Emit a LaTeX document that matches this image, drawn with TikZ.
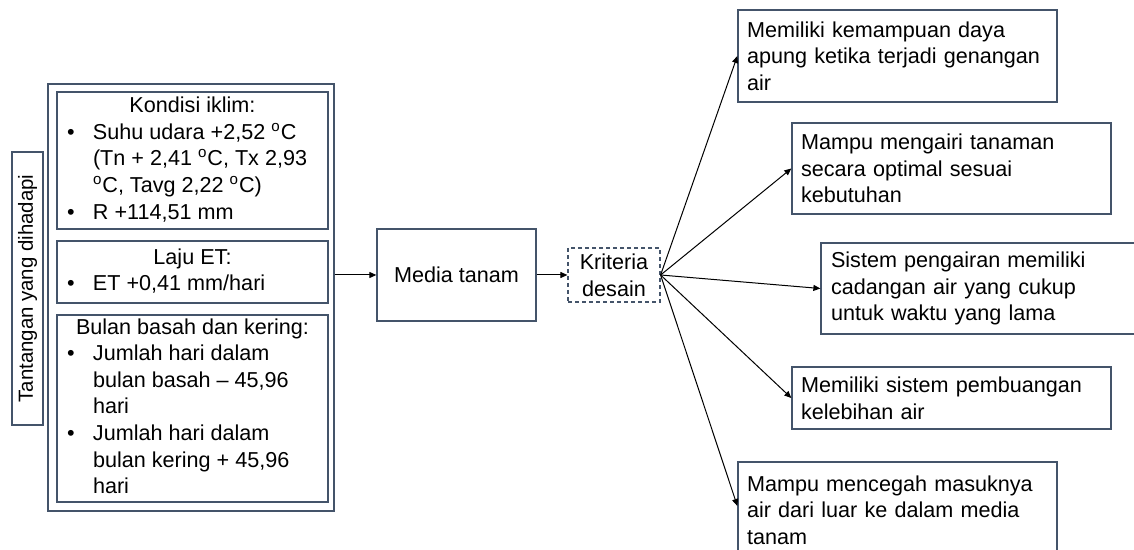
\documentclass[tikz,border=0pt]{standalone}
\usepackage{fontspec}
\setmainfont{Liberation Sans}
\usetikzlibrary{arrows.meta}
\definecolor{boxc}{HTML}{44546A}
\newcommand{\dg}{\textsuperscript{o}}
\begin{document}
\begin{tikzpicture}[x=0.5pt,y=-0.5pt,
  every node/.style={font=\fontsize{10.8pt}{13.3pt}\selectfont, text=black},
  bx/.style={draw=boxc, line width=0.65pt, inner sep=0pt},
  lbox/.style={bx, minimum width=135.5pt},
  rbox/.style={bx, inner xsep=4.5pt, text width=150.5pt, align=left},
  conn/.style={line width=0.5pt, -{Triangle[length=3.5pt,width=3pt]}}]
\useasboundingbox (0,0) rectangle (1134,550);
% left group
\node[bx, minimum width=143pt, minimum height=213.5pt] (outer) at (191,297.5) {};
\node[bx, rotate=90, minimum width=136.5pt, minimum height=15.5pt,
      font=\fontsize{10.2pt}{12pt}\selectfont] (tant) at (27.5,288.5) {Tantangan yang dihadapi};
\node[lbox, minimum height=68.5pt] (k1) at (192.5,160.5) {%
\begin{tabular}{@{\hspace{5pt}}p{13pt}@{}p{117.5pt}@{}}
\multicolumn{2}{@{}c@{}}{Kondisi iklim:}\\
\textbullet & Suhu udara +2,52 \dg C\\
 & (Tn + 2,41 \dg C, Tx 2,93\\
 & \dg C, Tavg 2,22 \dg C)\\
\textbullet & R +114,51 mm
\end{tabular}};
\node[lbox, minimum height=31pt] (k2) at (192.5,272) {%
\begin{tabular}{@{\hspace{5pt}}p{13pt}@{}p{117.5pt}@{}}
\multicolumn{2}{@{}c@{}}{Laju ET:}\\
\textbullet & ET +0,41 mm/hari
\end{tabular}};
\node[lbox, minimum height=93.5pt] (k3) at (192.5,408.5) {%
\begin{tabular}{@{\hspace{5pt}}p{13pt}@{}p{117.5pt}@{}}
\multicolumn{2}{@{}c@{}}{Bulan basah dan kering:}\\
\textbullet & Jumlah hari dalam\\
 & bulan basah – 45,96\\
 & hari\\
\textbullet & Jumlah hari dalam\\
 & bulan kering + 45,96\\
 & hari
\end{tabular}};
% middle
\node[bx, minimum width=79.5pt, minimum height=46pt] (media) at (456.5,275) {Media tanam};
\node[draw=boxc, line width=0.6pt, dash pattern=on 2pt off 1.5pt, inner sep=0pt,
      minimum width=46pt, minimum height=27pt, align=center] (krit) at (614,275) {Kriteria\\desain};
% right boxes
\node[rbox, minimum height=46pt] (a) at (897.5,56) {Memiliki kemampuan daya\\apung ketika terjadi genangan\\air};
\node[rbox, minimum height=45.5pt] (b) at (951.5,168.5) {Mampu mengairi tanaman\\secara optimal sesuai\\kebutuhan};
\node[rbox, minimum height=45.5pt, inner xsep=5pt] (c) at (981.5,288.5) {Sistem pengairan memiliki\\cadangan air yang cukup\\untuk waktu yang lama};
\node[rbox, minimum height=31pt] (d) at (951.5,398) {Memiliki sistem pembuangan\\kelebihan air};
\node[rbox, minimum height=48pt] (e) at (897.5,510) {Mampu mencegah masuknya\\air dari luar ke dalam media\\tanam};
% connectors
\coordinate (fan) at (krit.east);
\draw[conn] (media.west -| outer.east) -- (media.west);
\draw[conn] (media.east) -- (krit.west);
\draw[conn] (fan) -- (a.west);
\draw[conn] (fan) -- (b.west);
\draw[conn] (fan) -- (c.west);
\draw[conn] (fan) -- (d.west);
\draw[conn] (fan) -- ([yshift=2pt]e.west);
\end{tikzpicture}
\end{document}
